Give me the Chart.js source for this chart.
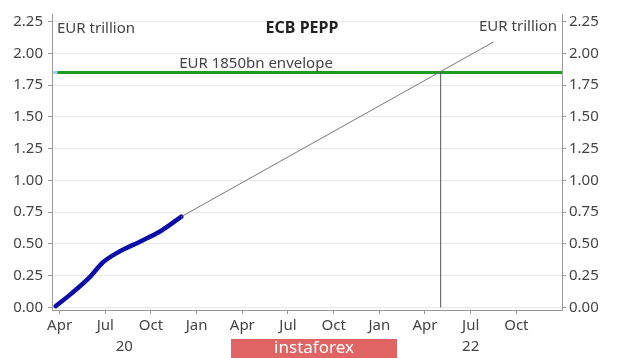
<!DOCTYPE html>
<html>
<head>
<meta charset="utf-8">
<script src="https://cdn.jsdelivr.net/npm/chart.js@4/dist/chart.umd.min.js"></script>
<style>
  html, body { margin: 0; padding: 0; background: #fff; }
  #wrap { width: 620px; height: 358px; position: relative; }
</style>
</head>
<body>
<div id="wrap"><canvas id="myChart" width="620" height="358"></canvas></div>
<script>
// months counted from 1 Jan 2020 (3 = Apr 2020)
var pepMonths = [2.74, 3.83, 5.03, 5.8, 6.78, 8.31, 9.62, 11.0];
var pepHoldings = [0.01, 0.115, 0.245, 0.35, 0.43, 0.52, 0.60, 0.715];
// straight-line projection of the pace so far
var trendMonths = [11.0, 31.5];
var trendValues = [0.715, 2.09];
// envelope line
var envelopeMonths = [2.85, 36];
var envelopeValue = 1.85;
var capMonth = 28.03;
// axis ticks
var tickMonths = [3, 6, 9, 12, 15, 18, 21, 24, 27, 30, 33];
var monthNames = ["Jan","Feb","Mar","Apr","May","Jun","Jul","Aug","Sep","Oct","Nov","Dec"];
var yTicks = [0, 0.25, 0.5, 0.75, 1, 1.25, 1.5, 1.75, 2, 2.25];
var years = ["20", "21", "22"];

function pts(xs, ys) {
  return xs.map(function (x, i) { return { x: x, y: ys[i] }; });
}

var FONT = "'Noto Sans', sans-serif";
var textCol = "#444";

var extras = {
  id: 'extras',
  afterDraw: function (chart) {
    var c = chart.ctx, x = chart.scales.x;
    c.save();
    c.fillStyle = textCol;
    c.textBaseline = 'middle';
    c.font = "15px " + FONT;
    c.textAlign = 'left';
    c.fillText("EUR trillion", 57, 29);
    c.textAlign = 'right';
    c.fillText("EUR trillion", 557, 27);
    c.textAlign = 'center';
    c.fillText("EUR 1850bn envelope", 256, 64);
    c.font = "bold 16px " + FONT;
    c.fillStyle = "#222";
    c.fillText("ECB PEPP", 302, 28);
    // year labels centred on the visible part of each year
    c.font = "15px " + FONT;
    c.fillStyle = textCol;
    years.forEach(function (yr, i) {
      var s = Math.max(i * 12, x.min), e = Math.min(i * 12 + 12, x.max);
      c.fillText(yr, x.getPixelForValue((s + e) / 2), 347);
    });
    // watermark
    c.fillStyle = "#e06464";
    c.fillRect(231, 339, 166, 19);
    c.fillStyle = "#fff";
    c.font = "17px " + FONT;
    c.fillText("instaforex", 314, 348);
    c.restore();
  }
};

var ctx = document.getElementById("myChart");
var myChart = new Chart(ctx, {
  type: 'line',
  data: {
    datasets: [
      { data: pts(trendMonths, trendValues), borderColor: "#777", borderWidth: 1, pointRadius: 0 },
      { data: [{ x: capMonth, y: 0 }, { x: capMonth, y: envelopeValue }], borderColor: "#555", borderWidth: 1, pointRadius: 0 },
      { data: pts(envelopeMonths, [envelopeValue, envelopeValue]), borderColor: "#1f9a24", borderWidth: 3, pointRadius: 0 },
      { data: pts([2.55, 2.85], [envelopeValue, envelopeValue]), borderColor: "#9ad4f2", borderWidth: 3, pointRadius: 0 },
      { data: pts(pepMonths, pepHoldings), borderColor: "#0c0ca8", borderWidth: 4.5, pointRadius: 0, cubicInterpolationMode: 'monotone', borderCapStyle: 'round' }
    ]
  },
  options: {
    responsive: false,
    animation: false,
    layout: { padding: { top: 12 } },
    plugins: { legend: { display: false }, tooltip: { enabled: false } },
    scales: {
      x: {
        type: 'linear', min: 2.5, max: 36,
        afterBuildTicks: function (s) { s.ticks = tickMonths.map(function (v) { return { value: v }; }); },
        afterFit: function (s) { s.height = 48; },
        ticks: { callback: function (v) { return monthNames[v % 12]; }, color: textCol, font: { family: FONT, size: 15 }, padding: 3, maxRotation: 0, autoSkip: false },
        grid: { drawOnChartArea: false, tickLength: 4, tickColor: "#999" },
        border: { color: "#999" }
      },
      y: {
        position: 'left', min: -0.02, max: 2.31,
        afterBuildTicks: function (s) { s.ticks = yTicks.map(function (v) { return { value: v }; }); },
        afterFit: function (s) { s.width = 52; },
        ticks: { callback: function (v) { return v.toFixed(2); }, color: textCol, font: { family: FONT, size: 15 }, padding: 5 },
        grid: { color: "#e8e8e8", tickColor: "#999", tickLength: 4 },
        border: { color: "#999" }
      },
      y2: {
        position: 'right', min: -0.02, max: 2.31,
        afterBuildTicks: function (s) { s.ticks = yTicks.map(function (v) { return { value: v }; }); },
        afterFit: function (s) { s.width = 58; },
        ticks: { callback: function (v) { return v.toFixed(2); }, color: textCol, font: { family: FONT, size: 15 }, padding: 3 },
        grid: { drawOnChartArea: false, tickColor: "#999", tickLength: 4 },
        border: { color: "#999" }
      }
    }
  },
  plugins: [extras]
});
</script>
</body>
</html>
